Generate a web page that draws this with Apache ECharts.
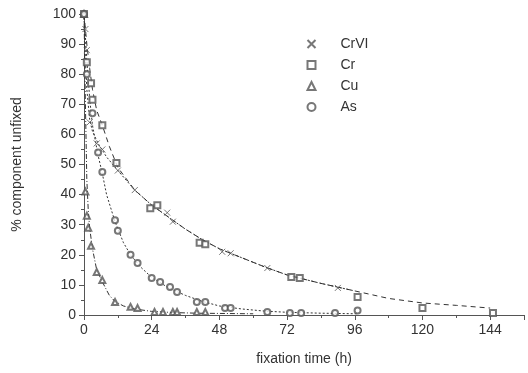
<!DOCTYPE html>
<html><head><meta charset="utf-8">
<script src="https://cdn.jsdelivr.net/npm/echarts@6/dist/echarts.min.js"></script>
<style>html,body{margin:0;padding:0;background:#fff}#c{width:528px;height:373px}</style>
</head><body><div id="c"></div>
<script>
// measured points
const crviX = [0, 0.5, 1, 2, 4.5, 6.5, 12, 18, 29.5, 31.5, 49, 52, 65, 90];
const crviY = [100, 95, 88, 64, 57, 55, 48, 41.5, 34, 31, 21, 20.5, 15.6, 9];
const crX = [0, 1, 2.5, 3, 6.5, 11.5, 23.5, 26, 41, 43, 73.5, 76.5, 97, 120, 145];
const crY = [100, 84, 77, 71.5, 63, 50.5, 35.5, 36.5, 24, 23.5, 12.6, 12.3, 6, 2.3, 0.7];
const cuX = [0, 0.5, 1, 1.5, 2.5, 4.5, 6.5, 11, 16.5, 19, 25, 28, 31.5, 33, 40, 43];
const cuY = [100, 41, 33, 29, 23, 14.3, 11.6, 4.3, 2.7, 2.3, 1, 1, 1, 1, 1, 1];
const asX = [0, 1, 3, 5, 6.5, 11, 12, 16.5, 19, 24, 27, 30.5, 33, 40, 43, 50, 52, 65, 73, 77, 89, 97];
const asY = [100, 80, 67, 54, 47.5, 31.5, 28, 20, 17.3, 12.3, 11, 9.3, 7.6, 4.3, 4.3, 2.3, 2.3, 1, 0.7, 0.7, 0.7, 1.5];
// fitted curves
const fitCrviX = [0, 0.5, 1, 2, 3, 5, 8, 12, 18, 24, 30, 36, 42, 48, 56, 64, 72, 84, 96];
const fitCrviY = [100, 85, 75, 65, 61, 57, 52.5, 48, 41.5, 36.5, 32.5, 28.5, 25, 22, 19, 16, 13.3, 10.5, 8];
const fitCrX = [0, 1, 2, 3, 4.5, 6.5, 9, 12, 18, 24, 30, 36, 42, 48, 56, 64, 72, 84, 96, 108, 120, 132, 144];
const fitCrY = [100, 90, 82, 75, 68, 63, 56, 49, 41.5, 36.5, 32.5, 28.5, 25, 22, 19, 16, 13.3, 10.5, 8, 5.5, 4, 3.2, 2.3];
const fitCuX = [0, 0.5, 1, 1.5, 2, 3, 4.5, 6.5, 9, 11, 14, 18, 24, 32, 40, 50, 60];
const fitCuY = [100, 70, 45, 35, 29, 22, 15, 11, 6.5, 4.5, 3, 2, 1.2, 0.8, 0.6, 0.5, 0.4];
const fitAsX = [0, 1, 2, 3, 5, 6.5, 8, 11, 14, 16.5, 20, 24, 30, 36, 42, 48, 56, 64, 72, 84, 97];
const fitAsY = [100, 85, 72, 63, 53, 47, 40, 31, 24, 20, 16, 12.5, 9, 6.5, 4.5, 3, 2, 1.3, 0.9, 0.6, 0.4];
const xTicks = [0, 24, 48, 72, 96, 120, 144];
const names = ['CrVI', 'Cr', 'Cu', 'As'];

const zip = (a, b) => a.map((v, i) => [v, b[i]]);
const ink = '#333';
const markInk = '#555';
const font = 'Liberation Sans, Arial, sans-serif';
const chart = echarts.init(document.getElementById('c'), null, {renderer: 'canvas'});

function marks(name, x, y, symbol, size) {
  return {name, type: 'scatter', data: zip(x, y), symbol, symbolSize: size,
    itemStyle: {color: symbol.startsWith('path') ? 'none' : markInk, borderColor: markInk, borderWidth: 1}, z: 3};
}
function fit(x, y, dash) {
  return {type: 'line', data: zip(x, y), showSymbol: false, silent: true, z: 2,
    lineStyle: {color: ink, width: 1, type: dash}};
}

chart.setOption({
  animation: false,
  backgroundColor: '#fff',
  grid: {left: 84, right: 4, top: 14, bottom: 58},
  xAxis: {type: 'value', min: 0, max: 156, interval: 24,
    name: 'fixation time (h)', nameLocation: 'middle', nameGap: 37,
    nameTextStyle: {fontFamily: font, fontSize: 14, color: ink},
    axisLine: {show: true, onZero: false, lineStyle: {color: '#555'}},
    axisTick: {show: true, inside: false, length: 5, lineStyle: {color: '#555'}},
    minorTick: {show: true, splitNumber: 2, length: 3, lineStyle: {color: '#555'}},
    axisLabel: {fontFamily: font, fontSize: 14, color: ink, margin: 8, showMaxLabel: false,
      formatter: v => xTicks.includes(v) ? String(v) : ''},
    splitLine: {show: false}},
  yAxis: {type: 'value', min: 0, max: 100, interval: 10,
    name: '% component unfixed', nameLocation: 'middle', nameGap: 60, nameRotate: 90,
    nameTextStyle: {fontFamily: font, fontSize: 14, color: ink},
    axisLine: {show: true, lineStyle: {color: '#555'}},
    axisTick: {show: true, inside: false, length: 5, lineStyle: {color: '#555'}},
    minorTick: {show: true, splitNumber: 2, length: 3, lineStyle: {color: '#555'}},
    axisLabel: {fontFamily: font, fontSize: 14, color: ink, margin: 8},
    splitLine: {show: false}},
  legend: {orient: 'vertical', left: 300, top: 32, itemWidth: 8, itemHeight: 8, itemGap: 7,
    data: names,
    textStyle: {fontFamily: font, fontSize: 14, color: ink, padding: [0, 0, 0, 20]}},
  series: [
    fit(fitCrviX, fitCrviY, [2, 2]),
    fit(fitCrX, fitCrY, [5, 4]),
    fit(fitCuX, fitCuY, [5, 2, 1, 2]),
    fit(fitAsX, fitAsY, [2, 2]),
    marks('CrVI', crviX, crviY, 'path://M0,0L10,10M10,0L0,10', 6),
    marks('Cr', crX, crY, 'emptyRect', 6),
    marks('Cu', cuX, cuY, 'emptyTriangle', 6),
    marks('As', asX, asY, 'emptyCircle', 6)
  ]
});
</script></body></html>
